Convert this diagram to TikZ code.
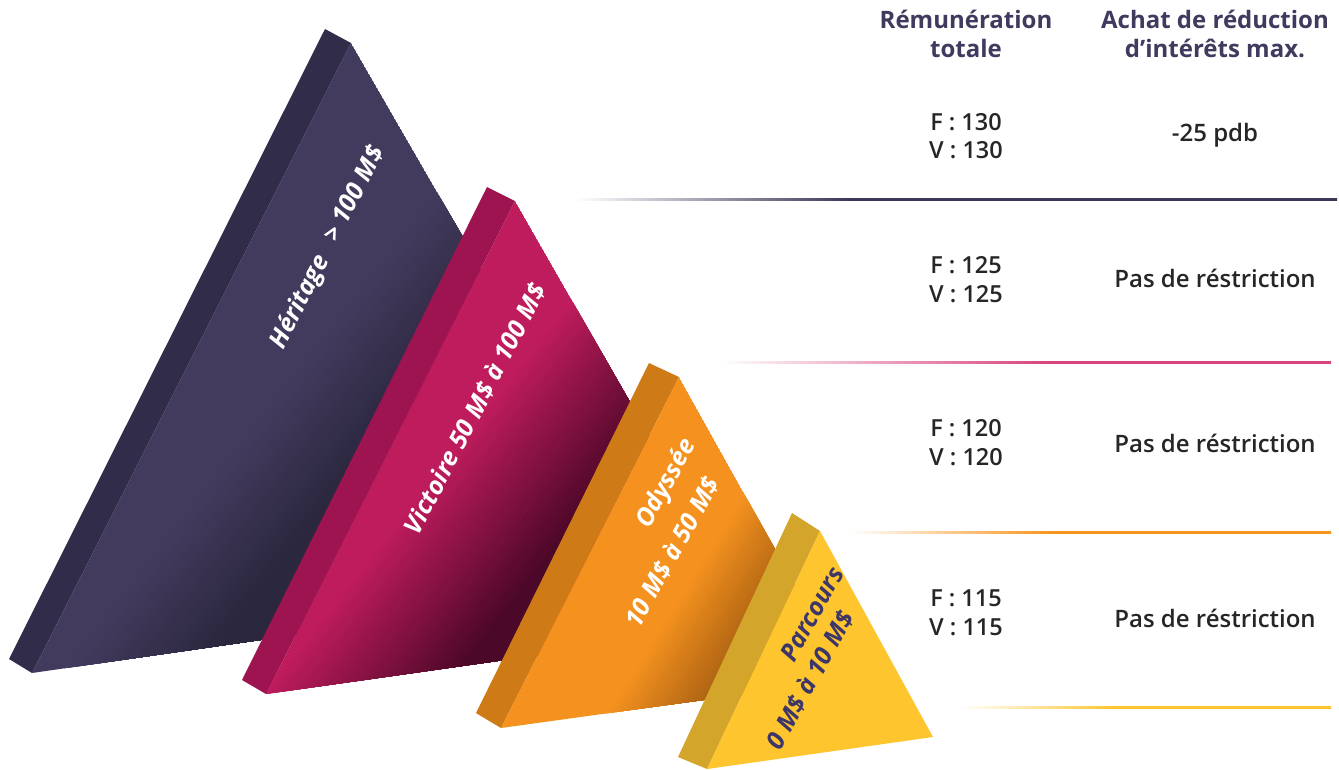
\documentclass[tikz,border=0pt]{standalone}
\usepackage{fontspec}
\setmainfont{Open Sans}
\IfFontExistsTF{Open Sans SemiBold}{\newfontfamily\valfont{Open Sans SemiBold}}{%
  \IfFontExistsTF{Open Sans Semibold}{\newfontfamily\valfont{Open Sans Semibold}}{\newfontfamily\valfont{Open Sans}}}
\definecolor{her}{HTML}{433B5E}
\definecolor{herdark}{HTML}{2B273E}
\definecolor{herside}{HTML}{312C4A}
\definecolor{vic}{HTML}{BE1C5C}
\definecolor{vicdark}{HTML}{4C0828}
\definecolor{vicside}{HTML}{9D1450}
\definecolor{ody}{HTML}{F5921F}
\definecolor{odydark}{HTML}{A35C11}
\definecolor{odyside}{HTML}{CD7A17}
\definecolor{par}{HTML}{FEC52F}
\definecolor{parside}{HTML}{D3A52A}
\definecolor{partext}{HTML}{3D3769}
\definecolor{headcol}{HTML}{3F3A5E}
\definecolor{valcol}{HTML}{262626}
\definecolor{line1}{HTML}{3C3758}
\definecolor{line2}{HTML}{D8427E}
\definecolor{line3}{HTML}{F7941D}
\definecolor{line4}{HTML}{FDC52E}
\pgfdeclarehorizontalshading{fadeone}{100bp}{color(0bp)=(white); color(25bp)=(white); color(43bp)=(line1); color(100bp)=(line1)}
\pgfdeclarehorizontalshading{fadetwo}{100bp}{color(0bp)=(white); color(25bp)=(white); color(52bp)=(line2); color(100bp)=(line2)}
\pgfdeclarehorizontalshading{fadethree}{100bp}{color(0bp)=(white); color(25bp)=(white); color(46bp)=(line3); color(100bp)=(line3)}
\pgfdeclarehorizontalshading{fadefour}{100bp}{color(0bp)=(white); color(25bp)=(white); color(46bp)=(line4); color(100bp)=(line4)}
\tikzset{
  tlabel/.style={font=\fontsize{25}{30}\selectfont\bfseries\itshape, text=white, inner sep=0pt},
  plabel/.style={tlabel, text=partext},
  headtext/.style={font=\fontsize{24}{29}\selectfont\bfseries, text=headcol, inner sep=0pt, anchor=base},
  valtext/.style={font=\fontsize{23.5}{29}\selectfont\valfont, text=valcol, inner sep=0pt, anchor=base},
  valtextr/.style={valtext, font=\fontsize{24}{29}\selectfont\valfont},
}
% corners #1 #2 #3, ramp origin #4, ramp length #5, bright #6, dark #7, angle #8
\newcommand{\rampfill}[8]{%
  \begin{scope}
    \clip (#1) -- (#2) -- (#3) -- cycle;
    \fill[#6] (#1) -- (#2) -- (#3) -- cycle;
    \begin{scope}[shift={(#4)}, rotate=#8]
      \foreach \k in {0,...,30} {
        \pgfmathsetmacro\dd{\k*#5/30}
        \pgfmathtruncatemacro\pp{\k*100/30}
        \fill[#7!\pp!#6] (\dd,-1200) rectangle (1200,1200);
      }
    \end{scope}
  \end{scope}}
\begin{document}
\begin{tikzpicture}[x=1pt,y=-1pt]
\useasboundingbox (0,0) rectangle (1339,769);
\fill[white] (0,0) rectangle (1339,769);
% separator lines
\shade[shading=fadeone] (575,198) rectangle (1337,200);
\shade[shading=fadetwo] (720,361) rectangle (1331,363);
\shade[shading=fadethree] (850,531) rectangle (1331,533);
\shade[shading=fadefour] (960,706) rectangle (1331,708);
% Heritage
\coordinate (hS) at (325,29);
\coordinate (hA) at (351,43);
\coordinate (hSB) at (9,659);
\coordinate (hB) at (32,673);
\coordinate (hC) at (662,582);
\coordinate (hO) at (430,200);
\fill[herside] (hS) -- (hSB) -- (hB) -- (hA) -- cycle;
\rampfill{hA}{hB}{hC}{hO}{105}{her}{herdark}{-38}
% Victoire
\coordinate (vS) at (487,187);
\coordinate (vA) at (515,201);
\coordinate (vSB) at (242,680);
\coordinate (vB) at (266,694);
\coordinate (vC) at (757,624);
\coordinate (vO) at (500,388);
\fill[vicside] (vS) -- (vSB) -- (vB) -- (vA) -- cycle;
\rampfill{vA}{vB}{vC}{vO}{140}{vic}{vicdark}{-38}
% Odyssee
\coordinate (oS) at (649,363);
\coordinate (oA) at (679,377);
\coordinate (oSB) at (476,713);
\coordinate (oB) at (501,728);
\coordinate (oC) at (848,680);
\coordinate (oO) at (708,548);
\fill[odyside] (oS) -- (oSB) -- (oB) -- (oA) -- cycle;
\rampfill{oA}{oB}{oC}{oO}{90}{ody}{odydark}{-32}
% Parcours
\coordinate (pS) at (792,513);
\coordinate (pA) at (820,531);
\coordinate (pSB) at (678,757);
\coordinate (pB) at (707,769);
\coordinate (pC) at (933,737);
\fill[parside] (pS) -- (pSB) -- (pB) -- (pA) -- cycle;
\fill[par] (pA) -- (pB) -- (pC) -- cycle;
% triangle labels
\node[tlabel, rotate=63] (hText) at (328,248) {Héritage\hspace{0.45em} > 100 M\$};
\node[tlabel, rotate=62.5] (vText) at (475,409) {Victoire 50 M\$ à 100 M\$};
\node[tlabel, rotate=61] (oText1) at (667,484) {Odyssée};
\node[tlabel, rotate=61] (oText2) at (672,552) {10 M\$ à 50 M\$};
\node[plabel, rotate=61] (pText1) at (812,614) {Parcours};
\node[plabel, rotate=61] (pText2) at (810,680) {0 M\$ à 10 M\$};
% headers
\node[headtext] (hd1a) at (966,28) {Rémunération};
\node[headtext] (hd1b) at (966,57) {totale};
\node[headtext] (hd2a) at (1215,28) {Achat de réduction};
\node[headtext] (hd2b) at (1215,57) {d’intérêts max.};
% values
\node[valtext] (r1F) at (966,130) {F : 130};
\node[valtext] (r1V) at (966,158) {V : 130};
\node[valtextr] (r1R) at (1215,141) {-25 pdb};
\node[valtext] (r2F) at (966,273) {F : 125};
\node[valtext] (r2V) at (966,302) {V : 125};
\node[valtextr] (r2R) at (1215,287) {Pas de réstriction};
\node[valtext] (r3F) at (966,436) {F : 120};
\node[valtext] (r3V) at (966,465) {V : 120};
\node[valtextr] (r3R) at (1215,452) {Pas de réstriction};
\node[valtext] (r4F) at (966,606) {F : 115};
\node[valtext] (r4V) at (966,635) {V : 115};
\node[valtextr] (r4R) at (1215,627) {Pas de réstriction};
\end{tikzpicture}
\end{document}
